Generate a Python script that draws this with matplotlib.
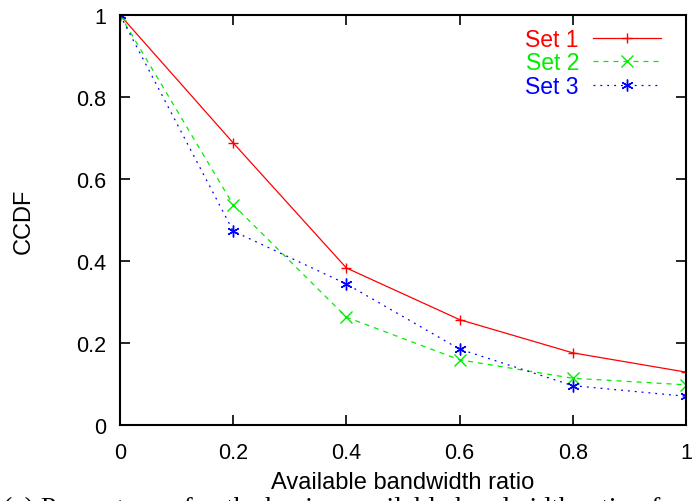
import matplotlib
matplotlib.use('Agg')
import matplotlib.pyplot as plt

# values
x = [0, 0.2, 0.4, 0.6, 0.8, 1.0]
set1 = [1.0, 0.688, 0.383, 0.257, 0.176, 0.129]
set2 = [1.0, 0.537, 0.263, 0.159, 0.114, 0.098]
set3 = [1.0, 0.473, 0.344, 0.185, 0.096, 0.070]
xticks = [0, 0.2, 0.4, 0.6, 0.8, 1]
yticks = [0, 0.2, 0.4, 0.6, 0.8, 1]
tick_labels = ['0', '0.2', '0.4', '0.6', '0.8', '1']

plt.rcParams['font.family'] = ['Liberation Sans', 'DejaVu Sans']

fig = plt.figure(figsize=(6.95, 5.02), dpi=100)
ax = fig.add_axes([0.1727, 0.1514, 0.8143, 0.8167])

ax.plot(x, set1, color='#ff0000', lw=0.9, marker='+', ms=7.5, mew=1.0, label='Set 1')
ax.plot(x, set2, color='#00ee00', lw=0.9, ls=(0, (4, 4)), marker='x', ms=8, mew=1.0, label='Set 2')
ax.plot(x, set3, color='#0000ff', lw=0.9, ls=(0, (1.5, 4)), marker=(6, 2, 0), ms=8.5, mew=1.0, label='Set 3')

ax.set_xlim(0, 1)
ax.set_ylim(0, 1)
ax.set_xticks(xticks)
ax.set_xticklabels(tick_labels)
ax.set_yticks(yticks)
ax.set_yticklabels(tick_labels)
ax.tick_params(direction='in', top=True, right=True, length=7, width=1.2, labelsize=15.5)
ax.tick_params(axis='x', pad=12)
ax.tick_params(axis='y', pad=10)
for s in ax.spines.values():
    s.set_linewidth(1.5)

ax.set_xlabel('Available bandwidth ratio', fontsize=17, labelpad=6)
ax.set_ylabel('CCDF', fontsize=17, labelpad=30)

leg = ax.legend(loc='upper right', frameon=False, markerfirst=False, numpoints=1,
                fontsize=16.5, handlelength=3.0, handletextpad=0.6, labelspacing=0.03,
                borderaxespad=0.15, bbox_to_anchor=(0.979, 1.0))
for t, c in zip(leg.get_texts(), ['#ff0000', '#00ee00', '#0000ff']):
    t.set_color(c)

# caption, mostly cut off at the bottom edge as in the reference
fig.text(0.005, -0.028, '(a) Percentage of paths having available bandwidth ratio of',
         family='Liberation Serif', fontsize=20, va='baseline', ha='left')

fig.savefig('out.png', dpi=100)
